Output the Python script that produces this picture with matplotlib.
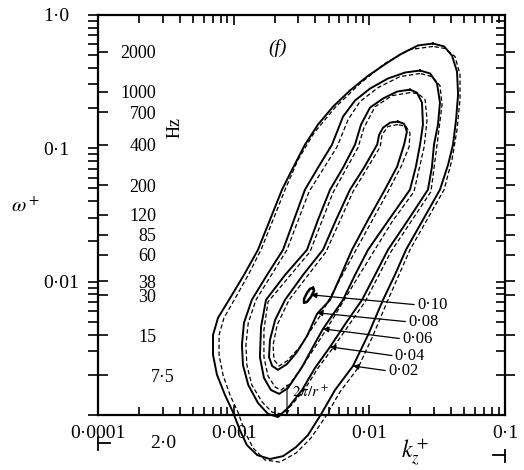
import matplotlib
matplotlib.use("Agg")
import matplotlib.pyplot as plt
from matplotlib.ticker import LogLocator, NullFormatter, NullLocator

plt.rcParams["font.family"] = ["Liberation Serif", "DejaVu Serif"]
plt.rcParams["mathtext.fontset"] = "stix"

# contours, (k_z+, omega+) along each closed curve
# solid = first data set, dashed = second data set
kz_02 = [0.0294, 0.0228, 0.0168, 0.0126, 0.00960, 0.00719, 0.00539, 0.00418, 0.00335, 0.00274,
         0.00227, 0.00185, 0.00151, 0.00119, 0.000923, 0.000766, 0.000704, 0.000704, 0.000753, 0.000863,
         0.000988, 0.00111, 0.00125, 0.00149, 0.00185, 0.00231, 0.00288, 0.00353, 0.00447, 0.00558,
         0.00757, 0.00977, 0.0126, 0.0154, 0.0186, 0.0248, 0.0331, 0.0380, 0.0413, 0.0435,
         0.0450, 0.0442, 0.0406, 0.0355, 0.0294]
w_02 = [0.607, 0.587, 0.502, 0.415, 0.343, 0.270, 0.204, 0.150, 0.106, 0.0713,
        0.0488, 0.0290, 0.0173, 0.0112, 0.00729, 0.00534, 0.00398, 0.00282, 0.00200, 0.00141,
        0.00105, 0.000772, 0.000596, 0.000501, 0.000468, 0.000492, 0.000575, 0.000708, 0.00104, 0.00154,
        0.00233, 0.00398, 0.00729, 0.0112, 0.0173, 0.0290, 0.0488, 0.0751, 0.106, 0.163,
        0.252, 0.374, 0.493, 0.577, 0.607]
kz_02d = [0.0294, 0.0199, 0.0130, 0.00852, 0.00558, 0.00391, 0.00298, 0.00239, 0.00195, 0.00159,
          0.00128, 0.00101, 0.000848, 0.000780, 0.000780, 0.000834, 0.000939, 0.00108, 0.00121, 0.00139,
          0.00170, 0.00219, 0.00288, 0.00371, 0.00479, 0.00607, 0.00824, 0.0106, 0.0135, 0.0199,
          0.0355, 0.0406, 0.0442, 0.0465, 0.0465, 0.0427, 0.0361, 0.0294]
w_02d = [0.577, 0.547, 0.430, 0.304, 0.201, 0.130, 0.0818, 0.0488, 0.0290, 0.0173,
         0.0112, 0.00729, 0.00534, 0.00398, 0.00282, 0.00200, 0.00141, 0.00104, 0.000745, 0.000566,
         0.000460, 0.000444, 0.000519, 0.000672, 0.000983, 0.00149, 0.00225, 0.00391, 0.00704, 0.0173,
         0.0488, 0.0818, 0.137, 0.231, 0.355, 0.485, 0.557, 0.577]

kz_04 = [0.0236, 0.0183, 0.0137, 0.0101, 0.00783, 0.00639, 0.00530, 0.00418, 0.00335, 0.00278,
         0.00231, 0.00176, 0.00136, 0.00119, 0.00115, 0.00117, 0.00128, 0.00151, 0.00179, 0.00212,
         0.00251, 0.00319, 0.00397, 0.00513, 0.00672, 0.00882, 0.0110, 0.0137, 0.0193, 0.0270,
         0.0289, 0.0299, 0.0320, 0.0331, 0.0315, 0.0280, 0.0236]
w_04 = [0.381, 0.368, 0.332, 0.279, 0.227, 0.172, 0.106, 0.0713, 0.0488, 0.0290,
        0.0173, 0.0112, 0.00729, 0.00490, 0.00335, 0.00237, 0.00168, 0.00123, 0.00102, 0.000966,
        0.00113, 0.00154, 0.00225, 0.00324, 0.00490, 0.00729, 0.0112, 0.0173, 0.0290, 0.0488,
        0.0725, 0.106, 0.150, 0.219, 0.304, 0.362, 0.381]
kz_04d = [0.0236, 0.0168, 0.0116, 0.00852, 0.00696, 0.00577, 0.00359, 0.00247, 0.00146, 0.00128,
          0.00123, 0.00125, 0.00136, 0.00162, 0.00192, 0.00223, 0.00264, 0.00335, 0.00418, 0.00539,
          0.00928, 0.0144, 0.0284, 0.0315, 0.0343, 0.0331, 0.0289, 0.0236]
w_04d = [0.362, 0.343, 0.284, 0.223, 0.163, 0.102, 0.0471, 0.0173, 0.00729, 0.00490,
         0.00335, 0.00237, 0.00168, 0.00125, 0.00105, 0.00102, 0.00117, 0.00157, 0.00225, 0.00318,
         0.00704, 0.0167, 0.0471, 0.106, 0.212, 0.294, 0.343, 0.362]

kz_06 = [0.0199, 0.0160, 0.0126, 0.0101, 0.00867, 0.00783, 0.00639, 0.00513, 0.00418, 0.00347,
         0.00239, 0.00173, 0.00159, 0.00156, 0.00167, 0.00188, 0.00216, 0.00251, 0.00319, 0.00384,
         0.00455, 0.00639, 0.00783, 0.00977, 0.0139, 0.0199, 0.0220, 0.0236, 0.0248, 0.0244,
         0.0224, 0.0199]
w_06 = [0.274, 0.265, 0.235, 0.201, 0.150, 0.106, 0.0713, 0.0488, 0.0290, 0.0173,
        0.0112, 0.00729, 0.00457, 0.00272, 0.00190, 0.00154, 0.00144, 0.00159, 0.00229, 0.00324,
        0.00442, 0.00729, 0.0112, 0.0173, 0.0290, 0.0488, 0.0725, 0.106, 0.150, 0.219,
        0.260, 0.274]
kz_06d = [0.0199, 0.0147, 0.0110, 0.00912, 0.00824, 0.00539, 0.00365, 0.00179, 0.00167, 0.00167,
          0.00179, 0.00202, 0.00223, 0.00260, 0.00330, 0.00479, 0.00824, 0.0147, 0.0213, 0.0253,
          0.0266, 0.0257, 0.0228, 0.0199]
w_06d = [0.260, 0.247, 0.204, 0.142, 0.101, 0.0463, 0.0167, 0.00704, 0.00434, 0.00272,
         0.00196, 0.00162, 0.00154, 0.00171, 0.00241, 0.00434, 0.0108, 0.0281, 0.0471, 0.102,
         0.163, 0.231, 0.256, 0.260]

kz_08 = [0.0162, 0.0142, 0.0126, 0.0118, 0.0114, 0.00912, 0.00719, 0.00568, 0.00455, 0.00324,
         0.00239, 0.00202, 0.00185, 0.00182, 0.00192, 0.00212, 0.00247, 0.00293, 0.00347, 0.00411,
         0.00513, 0.00618, 0.00744, 0.00977, 0.0130, 0.0160, 0.0180, 0.0189, 0.0180, 0.0162]
w_08 = [0.158, 0.155, 0.142, 0.126, 0.106, 0.0713, 0.0488, 0.0290, 0.0173, 0.0112,
        0.00729, 0.00516, 0.00365, 0.00272, 0.00233, 0.00218, 0.00241, 0.00297, 0.00391, 0.00572,
        0.00729, 0.0112, 0.0173, 0.0290, 0.0488, 0.0725, 0.106, 0.133, 0.152, 0.158]
kz_08d = [0.0162, 0.0137, 0.0124, 0.0120, 0.00757, 0.00479, 0.00256, 0.00209, 0.00195, 0.00198,
          0.00216, 0.00247, 0.00308, 0.00433, 0.00783, 0.0137, 0.0171, 0.0196, 0.0199, 0.0186,
          0.0162]
w_08d = [0.150, 0.145, 0.126, 0.102, 0.0471, 0.0167, 0.00729, 0.00473, 0.00335, 0.00259,
         0.00233, 0.00254, 0.00324, 0.00553, 0.0167, 0.0471, 0.0725, 0.102, 0.130, 0.145,
         0.150]

kz_10 = [0.00384, 0.00391, 0.00371, 0.00347, 0.00330, 0.00330, 0.00347, 0.00365, 0.00384]
w_10 = [0.00897, 0.00852, 0.00768, 0.00704, 0.00692, 0.00742, 0.00823, 0.00882, 0.00897]

# level labels and where their arrows point
levels = ["0·10", "0·08", "0·06", "0·04", "0·02"]
tip_kz = [3.71e-3, 4.11e-3, 4.55e-3, 5.12e-3, 7.57e-3]
tip_w = [7.95e-3, 5.83e-3, 4.42e-3, 3.24e-3, 2.33e-3]
text_kz = [2.24e-2, 1.93e-2, 1.74e-2, 1.54e-2, 1.37e-2]
text_w = [6.69e-3, 4.99e-3, 3.72e-3, 2.77e-3, 2.14e-3]

kz_ticks = [1e-4, 1e-3, 1e-2, 1e-1]
kz_ticklabels = ["0·0001", "0·001", "0·01", "0·1"]
w_ticks = [1e-3, 1e-2, 1e-1, 1.0]
w_ticklabels = ["", "0·01", "0·1", "1·0"]

hz_ticks = [2000, 1000, 700, 400, 200, 120, 85, 60, 38, 30, 15, 7.5]
hz_ticklabels = ["2000", "1000", "700", "400", "200", "120", "85", "60", "38", "30", "15", "7·5"]
HZ_PER_W = 3788.0  # Hz at omega+ = 1

kz_cut = 2.47e-3  # 2pi/r+
w_lim = (1e-3, 1.0)
kz_lim = (1e-4, 1e-1)

fig = plt.figure(figsize=(5.24, 4.70), dpi=100)
ax = fig.add_axes([0.187, 0.117, 0.777, 0.852])

solid = [(kz_02, w_02), (kz_04, w_04), (kz_06, w_06), (kz_08, w_08)]
dashed = [(kz_02d, w_02d), (kz_04d, w_04d), (kz_06d, w_06d), (kz_08d, w_08d)]
for kz, w in solid:
    ax.plot(kz, w, color="k", lw=1.4, clip_on=False)
for kz, w in dashed:
    ax.plot(kz, w, color="k", lw=0.9, ls=(0, (3.5, 2.0)), clip_on=False)
ax.plot(kz_10, w_10, color="k", lw=1.8)

ax.set_xscale("log")
ax.set_yscale("log")
ax.set_xlim(*kz_lim)
ax.set_ylim(*w_lim)
for sp in ax.spines.values():
    sp.set_linewidth(1.6)

ax.set_xticks(kz_ticks, kz_ticklabels)
ax.xaxis.set_minor_locator(LogLocator(base=10, subs=range(2, 10)))
ax.xaxis.set_minor_formatter(NullFormatter())
ax.tick_params(axis="x", which="both", direction="in", top=True, bottom=True,
               width=1.2, labelsize=14, pad=7)
ax.tick_params(axis="x", which="major", length=7)
ax.tick_params(axis="x", which="minor", length=6)

# right: omega ticks pointing in, no labels
ax_r = ax.twinx()
ax_r.set_yscale("log")
ax_r.set_ylim(*w_lim)
ax_r.set_yticks(w_ticks, [""] * len(w_ticks))
ax_r.yaxis.set_minor_locator(LogLocator(base=10, subs=range(2, 10)))
ax_r.yaxis.set_minor_formatter(NullFormatter())
ax_r.tick_params(axis="y", which="both", direction="in", length=6.5, width=1.2)

# Hz scale, right: pointing out
hz_r = ax.twinx()
hz_r.set_yscale("log")
hz_r.set_ylim(w_lim[0] * HZ_PER_W, w_lim[1] * HZ_PER_W)
hz_r.set_yticks(hz_ticks, [""] * len(hz_ticks))
hz_r.yaxis.set_minor_locator(NullLocator())
hz_r.tick_params(axis="y", which="major", direction="out", length=7, width=1.2)

# Hz scale, left: pointing in, labels inside the frame
hz_l = ax.twinx()
hz_l.set_yscale("log")
hz_l.set_ylim(w_lim[0] * HZ_PER_W, w_lim[1] * HZ_PER_W)
hz_l.yaxis.tick_left()
hz_l.set_yticks(hz_ticks, hz_ticklabels)
hz_l.yaxis.set_minor_locator(NullLocator())
hz_l.tick_params(axis="y", which="major", direction="in", length=7, width=1.2,
                 labelsize=13, pad=-41.8)

for a in (ax_r, hz_r, hz_l):
    for sp in a.spines.values():
        sp.set_visible(False)

# left: omega ticks pointing out, labels flush left
ax.yaxis.tick_left()
ax.set_yticks(w_ticks, w_ticklabels)
ax.yaxis.set_minor_locator(LogLocator(base=10, subs=range(2, 10)))
ax.yaxis.set_minor_formatter(NullFormatter())
ax.tick_params(axis="y", which="both", direction="out", length=7, width=1.2,
               labelsize=14, pad=32.6)
for lab in ax.get_yticklabels():
    lab.set_horizontalalignment("left")

# level labels with arrows
for lev, tx, ty, lx, ly in zip(levels, tip_kz, tip_w, text_kz, text_w):
    ax.annotate(lev, xy=(tx, ty), xytext=(lx, ly), fontsize=12, ha="left", va="center",
                arrowprops=dict(arrowstyle="-|>", color="k", lw=0.9, mutation_scale=8,
                                shrinkA=0, shrinkB=0, relpos=(0.0, 0.5)))

# 2pi/r+ marker
ax.annotate("", xy=(kz_cut, w_lim[0]), xytext=(kz_cut, 1.68e-3),
            arrowprops=dict(arrowstyle="-|>", color="k", lw=0.8, mutation_scale=6,
                            shrinkA=0, shrinkB=0))
ax.text(2.69e-3, 1.49e-3, r"$2\pi/r^+$", fontsize=11, ha="left", va="center")

ax.text(0.44, 0.917, "(f)", transform=ax.transAxes, fontsize=14, style="italic",
        ha="center", va="center")
ax.text(0.189, 0.717, "Hz", transform=ax.transAxes, fontsize=13, rotation=90,
        ha="center", va="center")
ax.text(-0.179, 0.52, r"$\omega^+$", transform=ax.transAxes, fontsize=15,
        ha="center", va="center")
ax.text(0.779, -0.095, r"$k_z^+$", transform=ax.transAxes, fontsize=17,
        ha="center", va="center")

# scale bar under the k axis
ax.plot([0, 0], [-0.055, -0.087], transform=ax.transAxes, color="k", lw=1.3, clip_on=False)
ax.plot([0, 0.03], [-0.071, -0.071], transform=ax.transAxes, color="k", lw=1.3, clip_on=False)
ax.plot([1, 1], [-0.087, -0.117], transform=ax.transAxes, color="k", lw=1.3, clip_on=False)
ax.plot([0.97, 1], [-0.100, -0.100], transform=ax.transAxes, color="k", lw=1.3, clip_on=False)
ax.text(0.160, -0.072, "2·0", transform=ax.transAxes, fontsize=14, ha="center", va="center")

# 7.5 label sits further right than the others
hz_l.yaxis.get_major_ticks()[hz_ticks.index(7.5)].set_pad(-55.5)

fig.savefig("out.png", dpi=100)
